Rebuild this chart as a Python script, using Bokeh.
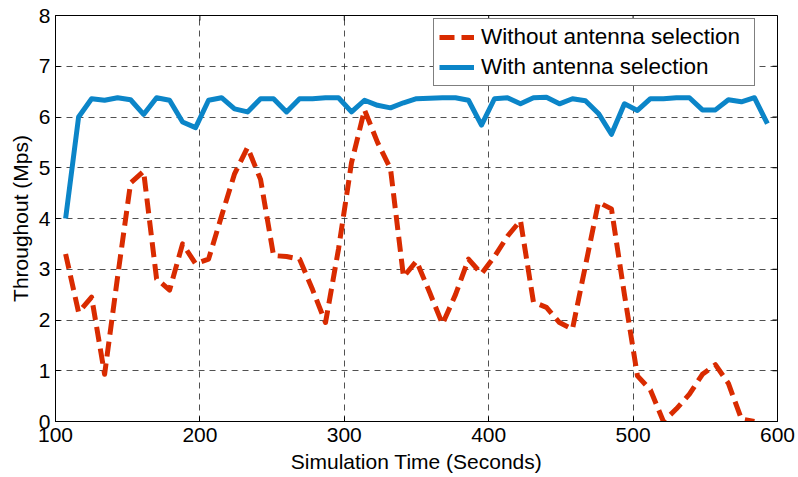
import math
from bokeh.plotting import figure
from bokeh.models import Range1d, FixedTicker, Legend, LegendItem
from bokeh.embed import file_html
from bokeh.resources import INLINE

# Simulation time (seconds) of each sample
time_with = [107, 116, 125, 134, 143, 152, 161, 170, 179, 188, 197, 206, 215, 224,
             233, 242, 251, 260, 269, 278, 287, 296, 305, 314, 323, 332, 341, 350,
             359, 368, 377, 386, 395, 404, 413, 422, 431, 440, 449, 458, 467, 476,
             485, 494, 503, 512, 521, 530, 539, 548, 557, 566, 575, 584, 593]
time_without = [107, 116, 125, 134, 143, 152, 161, 170, 179, 188, 197, 206, 215, 224,
                233, 242, 251, 260, 269, 278, 287, 296, 305, 314, 323, 332, 341, 350,
                359, 368, 377, 386, 395, 404, 413, 422, 431, 440, 449, 458, 467, 476,
                485, 494, 503, 512, 521, 530, 539, 548, 557, 566, 575, 584]

# Throughput (Mbps)
without_selection = [3.30, 2.15, 2.45, 0.93, 2.85, 4.70, 4.93, 2.81, 2.59, 3.50, 3.11, 3.20,
                     4.05, 4.88, 5.40, 4.77, 3.27, 3.25, 3.20, 2.60, 1.95, 3.40, 5.10, 6.14,
                     5.50, 4.98, 2.85, 3.16, 2.55, 1.92, 2.50, 3.20, 2.91, 3.25, 3.65, 3.96,
                     2.35, 2.25, 1.95, 1.82, 3.07, 4.32, 4.19, 2.50, 0.90, 0.62, 0.00, 0.25,
                     0.54, 0.93, 1.12, 0.75, 0.05, 0.00]
with_selection = [4.00, 6.00, 6.36, 6.33, 6.38, 6.34, 6.05, 6.38, 6.33, 5.90, 5.79, 6.33,
                  6.38, 6.16, 6.10, 6.36, 6.36, 6.10, 6.36, 6.36, 6.38, 6.38, 6.10, 6.33,
                  6.23, 6.18, 6.28, 6.36, 6.37, 6.38, 6.38, 6.33, 5.84, 6.36, 6.38, 6.26,
                  6.38, 6.39, 6.26, 6.36, 6.32, 6.07, 5.66, 6.26, 6.13, 6.36, 6.36, 6.38,
                  6.38, 6.14, 6.14, 6.34, 6.30, 6.38, 5.87]

x_ticks = [100, 200, 300, 400, 500, 600]
y_ticks = [0, 1, 2, 3, 4, 5, 6, 7, 8]
labels = ["Without antenna selection", "With antenna selection"]

FONT = "Liberation Sans"
FS = "21px"

p = figure(width=798, height=477, output_backend="svg", toolbar_location=None,
           x_range=Range1d(100, 600), y_range=Range1d(0, 8),
           min_border_left=55, min_border_right=21, min_border_top=15, min_border_bottom=56)
p.background_fill_color = "white"
p.border_fill_color = "white"
p.outline_line_color = "black"
p.outline_line_width = 1

for ax, ticks in ((p.xaxis[0], x_ticks), (p.yaxis[0], y_ticks)):
    ax.ticker = FixedTicker(ticks=ticks)
    ax.major_tick_in = 5
    ax.major_tick_out = 0
    ax.minor_tick_line_color = None
    ax.axis_line_color = "black"
    ax.major_tick_line_color = "black"
    ax.major_label_text_font = FONT
    ax.major_label_text_font_size = FS
    ax.major_label_text_color = "black"
    ax.axis_label_text_font = FONT
    ax.axis_label_text_font_size = FS
    ax.axis_label_text_font_style = "normal"
    ax.axis_label_text_color = "black"

p.xaxis.axis_label = "Simulation Time (Seconds)"
p.yaxis.axis_label = "Throughout (Mps)"
p.xaxis.major_label_standoff = 6
p.xaxis.axis_label_standoff = 5
p.yaxis.major_label_standoff = 5
p.yaxis.axis_label_standoff = 4

p.xgrid.ticker = FixedTicker(ticks=x_ticks)
p.ygrid.ticker = FixedTicker(ticks=y_ticks)
for g in (p.xgrid[0], p.ygrid[0]):
    g.grid_line_color = "#333333"
    g.grid_line_dash = "6 5"
    g.grid_line_width = 1
    g.grid_line_alpha = 0.85

# inward tick marks on the right and top edges of the box (clipped to the frame)
p.scatter([x_ticks[-1]] * len(y_ticks), y_ticks, marker="dash", size=10,
          line_color="black", line_width=1)
p.scatter(x_ticks, [y_ticks[-1]] * len(x_ticks), marker="dash", size=10,
          angle=math.pi / 2, line_color="black", line_width=1)

r_without = p.line(time_without, without_selection, line_color="#D92B00", line_width=5,
                   line_dash="15 7", line_join="round")
r_with = p.line(time_with, with_selection, line_color="#0B85C8", line_width=5,
                line_join="round")

legend = Legend(items=[LegendItem(label=labels[0], renderers=[r_without]),
                       LegendItem(label=labels[1], renderers=[r_with])],
                location=(378, 335), margin=0, padding=5, spacing=4,
                glyph_width=35, glyph_height=24, label_height=24, label_width=268,
                label_standoff=7,
                label_text_font=FONT, label_text_font_size="22.5px", label_text_color="black",
                border_line_color="black", border_line_width=1, background_fill_alpha=1)
p.add_layout(legend, "center")

open("out.html", "w").write(file_html(p, INLINE))
